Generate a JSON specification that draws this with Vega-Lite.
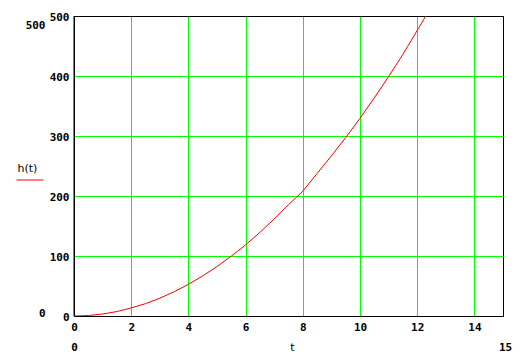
{
  "$schema": "https://vega.github.io/schema/vega-lite/v6.json",
  "width": 429,
  "height": 300,
  "autosize": {"type": "none"},
  "padding": {"left": 74, "top": 16, "right": 24, "bottom": 38},
  "background": "white",
  "config": {
    "view": {"stroke": "black", "strokeWidth": 1},
    "axis": {
      "labelFont": "DejaVu Sans Mono",
      "labelFontWeight": "bold",
      "labelFontSize": 11,
      "labelColor": "black",
      "titleColor": "black",
      "ticks": false,
      "domain": false,
      "labelFlush": false,
      "labelOverlap": false
    }
  },
  "data": {
    "values": [
      {"t": 0, "h": 0},
      {"t": 0.5, "h": 0.8},
      {"t": 1, "h": 3.3},
      {"t": 1.5, "h": 7.4},
      {"t": 2, "h": 13.5},
      {"t": 2.5, "h": 20.6},
      {"t": 3, "h": 29.7},
      {"t": 3.5, "h": 40.4},
      {"t": 4, "h": 52.8},
      {"t": 4.5, "h": 66.8},
      {"t": 5, "h": 82.5},
      {"t": 5.5, "h": 99.8},
      {"t": 6, "h": 118.5},
      {"t": 6.5, "h": 139.4},
      {"t": 7, "h": 161.7},
      {"t": 7.5, "h": 185.6},
      {"t": 8, "h": 208},
      {"t": 8.5, "h": 237.6},
      {"t": 9, "h": 266.8},
      {"t": 9.5, "h": 297.4},
      {"t": 10, "h": 329.5},
      {"t": 10.5, "h": 363.5},
      {"t": 11, "h": 399},
      {"t": 11.5, "h": 436},
      {"t": 12, "h": 476},
      {"t": 12.5, "h": 516}
    ]
  },
  "layer": [
    {
      "mark": {"type": "line", "strokeWidth": 1, "clip": true},
      "encoding": {
        "x": {
          "field": "t",
          "type": "quantitative",
          "scale": {"domain": [0, 15], "nice": false, "zero": false},
          "axis": {
            "orient": "bottom",
            "values": [0, 2, 4, 6, 8, 10, 12, 14],
            "grid": true,
            "gridColor": {"condition": {"test": "datum.value == 0", "value": "black"}, "value": "#00ff00"},
            "gridOpacity": 1,
            "gridWidth": 1,
            "labelPadding": 5,
            "labelBaseline": "top",
            "title": null
          }
        },
        "y": {
          "field": "h",
          "type": "quantitative",
          "scale": {"domain": [0, 500], "nice": false},
          "axis": {
            "orient": "left",
            "values": [0, 100, 200, 300, 400, 500],
            "grid": true,
            "gridColor": {"condition": {"test": "datum.value == 0 || datum.value == 500", "value": "black"}, "value": "#00ff00"},
            "gridOpacity": 1,
            "gridWidth": 1,
            "labelPadding": 5,
            "labelOffset": 1,
            "title": "h(t)",
            "titleFont": "DejaVu Sans",
            "titleFontWeight": "normal",
            "titleFontSize": 11,
            "titleAngle": 0,
            "titleAlign": "left",
            "titleBaseline": "middle",
            "titleX": -57,
            "titleY": 152
          }
        },
        "color": {
          "datum": "h(t)",
          "scale": {"range": ["#ff0000"]},
          "legend": {
            "orient": "none",
            "legendX": -58,
            "legendY": 150,
            "title": null,
            "symbolType": "stroke",
            "symbolSize": 729,
            "symbolStrokeWidth": 1,
            "labelExpr": "''",
            "padding": 0
          }
        }
      }
    },
    {
      "data": {"values": [{}]},
      "mark": {"type": "rule", "color": "black", "strokeWidth": 1},
      "encoding": {
        "x": {
          "datum": 0,
          "type": "quantitative",
          "axis": {
            "orient": "bottom",
            "offset": 25,
            "values": [0, 15],
            "grid": false,
            "labelPadding": 0,
            "labelBaseline": "top",
            "labelOffset": {"condition": {"test": "datum.value == 15", "value": 2}, "value": 0},
            "title": "t",
            "titleFont": "DejaVu Sans",
            "titleFontWeight": "normal",
            "titleFontSize": 11,
            "titleAlign": "center",
            "titleBaseline": "top",
            "titleX": 218,
            "titleY": 0
          }
        },
        "y": {
          "datum": 0,
          "type": "quantitative",
          "axis": {
            "orient": "left",
            "offset": 27,
            "values": [0, 500],
            "grid": false,
            "labelPadding": 2,
            "labelOffset": {"condition": {"test": "datum.value == 500", "value": 9}, "value": -3},
            "title": null
          }
        },
        "y2": {"datum": 500}
      }
    }
  ],
  "resolve": {"axis": {"x": "independent", "y": "independent"}}
}
